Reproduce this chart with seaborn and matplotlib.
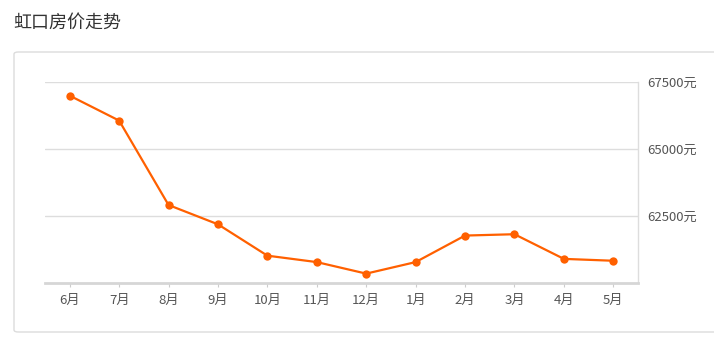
import matplotlib
matplotlib.use("Agg")
import matplotlib.pyplot as plt
from matplotlib.patches import FancyBboxPatch
import seaborn as sns
import pandas as pd

months = ["6月", "7月", "8月", "9月", "10月", "11月", "12月", "1月", "2月", "3月", "4月", "5月"]
prices = [66990, 66060, 62910, 62190, 61020, 60780, 60350, 60780, 61770, 61820, 60900, 60830]
y_ticks = [62500, 65000, 67500]
y_tick_labels = ["62500元", "65000元", "67500元"]
title = "虹口房价走势"

sns.set_theme(style="white")
plt.rcParams['font.family'] = ['Noto Sans CJK SC', 'DejaVu Sans']

df = pd.DataFrame({"month": months, "price": prices})

fig = plt.figure(figsize=(7.14, 3.49), dpi=100)

# outer bordered box
box = FancyBboxPatch((14 / 714, (349 - 332) / 349), (760 - 14) / 714, (332 - 52) / 349,
                     boxstyle="round,pad=0,rounding_size=0.006",
                     transform=fig.transFigure, facecolor="none",
                     edgecolor="#dcdcdc", linewidth=1.0, zorder=-1)
fig.patches.append(box)

fig.text(13 / 714, 1 - 23 / 349, title, fontsize=13, color="#333333",
         ha="left", va="center")

ax = fig.add_axes([45 / 714, (349 - 283) / 349, (638 - 45) / 714, (283 - 82) / 349])
ax.set_facecolor("none")

sns.lineplot(data=df, x="month", y="price", ax=ax, color="#ff6000",
             linewidth=1.6, marker="o", markersize=6, markeredgewidth=0,
             sort=False, zorder=3)

ax.set_xlim(-0.5, len(months) - 0.5)
ax.set_ylim(60000, 67500)
ax.set_xlabel("")
ax.set_ylabel("")

ax.yaxis.tick_right()
ax.set_yticks(y_ticks)
ax.set_yticklabels(y_tick_labels)
for v in y_ticks:
    ax.axhline(v, color="#dddddd", linewidth=1.0, zorder=1)

for s in ["top", "left"]:
    ax.spines[s].set_visible(False)
ax.spines["bottom"].set_color("#d6d6d6")
ax.spines["bottom"].set_linewidth(2.0)
ax.spines["right"].set_color("#dddddd")
ax.spines["right"].set_linewidth(1.0)

ax.tick_params(axis="y", length=0, pad=7, labelsize=9.5, labelcolor="#555555")
ax.tick_params(axis="x", length=3, width=0.8, color="#cccccc", pad=5,
               labelsize=9.5, labelcolor="#555555", bottom=True)

fig.savefig("out.png", dpi=100)
